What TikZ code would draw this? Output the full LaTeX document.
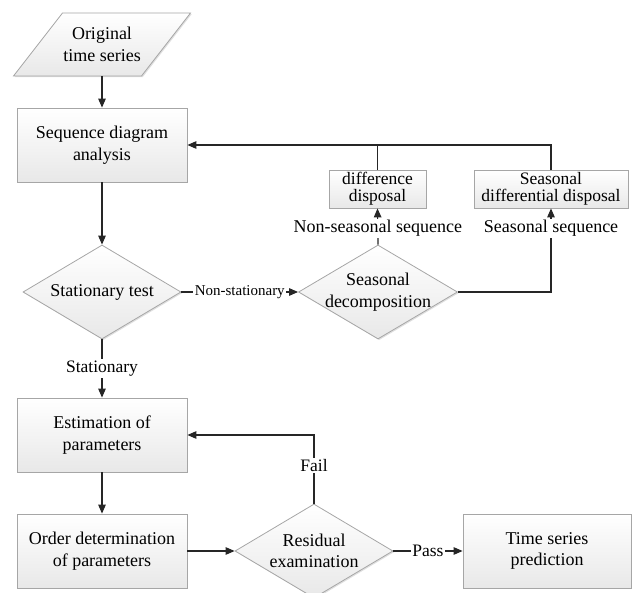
\documentclass[tikz,border=0pt]{standalone}
\usepackage{fontspec}
\setmainfont{Liberation Serif}
\usetikzlibrary{shapes.geometric,arrows.meta,shadows}
\definecolor{bord}{HTML}{A6A6A6}
\definecolor{ln}{HTML}{262626}
\begin{document}
\begin{tikzpicture}[x=1pt,y=-1pt,
  every node/.style={font=\fontsize{18}{21.5}\selectfont, text=black},
  shp/.style={draw=bord, line width=0.8pt, top color=white, bottom color=black!9,
    drop shadow={shadow xshift=1.2pt, shadow yshift=-1.2pt, opacity=0.25, fill=black!50}},
  box/.style={shp, rectangle, align=center, inner sep=0pt},
  smallbox/.style={box, minimum height=38, font=\fontsize{17.5}{17}\selectfont},
  dia/.style={shp, diamond, inner sep=0pt, minimum width=158, minimum height=94},
  conn/.style={draw=ln, line width=1.2pt},
  arr/.style={conn, -{Triangle[length=9pt,width=7.5pt]}},
  lbl/.style={fill=white, inner sep=1.5pt, font=\fontsize{17.5}{20}\selectfont},
  ]
\useasboundingbox (0,0) rectangle (633,593);
% shapes
\draw[shp] (13.5,76) -- (62.5,13) -- (190.5,13) -- (141.5,76) -- cycle;
\node[align=center, minimum height=63, inner sep=0pt] (orig) at (102,44.5) {Original\\time series};
\node[box, minimum width=170, minimum height=74] (seq) at (102,145) {Sequence diagram\\analysis};
\node[dia, label={[align=center]center:Stationary test}] (st) at (102,292) {};
\node[dia, minimum width=159, label={[align=center]center:Seasonal\\decomposition}] (sd) at (378,292) {};
\node[smallbox, minimum width=97] (dd) at (377.5,189) {difference\\disposal};
\node[smallbox, minimum width=154] (sdd) at (551,189) {Seasonal\\differential disposal};
\node[box, minimum width=170, minimum height=74] (est) at (102,435) {Estimation of\\parameters};
\node[box, minimum width=170, minimum height=74] (ord) at (102,551) {Order determination\\of parameters};
\node[dia, label={[align=center]center:Residual\\examination}] (re) at (314,551) {};
\node[box, minimum width=168, minimum height=74] (tsp) at (547,551) {Time series\\prediction};
% connectors
\draw[arr] (orig.south) -- (seq.north);
\draw[arr] (seq.south) -- (st.north);
\draw[arr] (st.south) -- node[lbl]{Stationary} (est.north);
\draw[arr] (st.east) -- node[lbl, font=\fontsize{15}{17}\selectfont]{Non-stationary} (sd.west);
\draw[arr] (sd.north) -- node[lbl, pos=0.45, font=\fontsize{18}{20}\selectfont]{Non-seasonal sequence} (dd.south);
\draw[arr] (sd.east) -| node[lbl, pos=0.88, font=\fontsize{18}{20}\selectfont]{Seasonal sequence} (sdd.south);
\draw[arr] (sdd.north) |- (seq.east);
\draw[conn] (dd.north) -- (dd.north |- seq.east);
\draw[arr] (est.south) -- (ord.north);
\draw[arr] (ord.east) -- (re.west);
\draw[arr] (re.north) |- node[lbl, pos=0.28]{Fail} (est.east);
\draw[arr] (re.east) -- node[lbl]{Pass} (tsp.west);
\end{tikzpicture}
\end{document}
